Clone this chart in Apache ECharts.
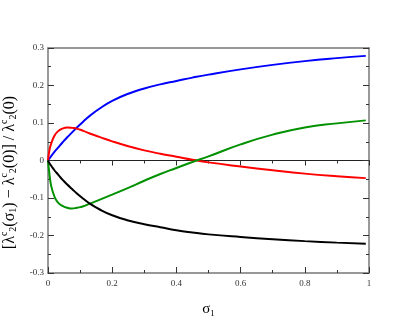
<!DOCTYPE html>
<html>
<head>
<meta charset="utf-8">
<script src="https://cdn.jsdelivr.net/npm/echarts@6/dist/echarts.min.js"></script>
<style>
  html, body { margin: 0; padding: 0; background: #fff; }
  #chart { width: 415px; height: 321px; }
</style>
</head>
<body>
<div id="chart"></div>
<script>
var sigma = [0, 0.005, 0.01, 0.02, 0.03, 0.045, 0.06, 0.075, 0.09, 0.11, 0.13, 0.16, 0.2, 0.25, 0.3, 0.35, 0.4, 0.45, 0.5, 0.6, 0.7, 0.8, 0.9, 0.99];
var blue  = [0, 0.006, 0.012, 0.023, 0.033, 0.048, 0.062, 0.075, 0.088, 0.104, 0.119, 0.138, 0.159, 0.178, 0.192, 0.203, 0.212, 0.221, 0.229, 0.243, 0.255, 0.265, 0.273, 0.279];
var red   = [0, 0.030, 0.045, 0.066, 0.077, 0.085, 0.088, 0.087, 0.085, 0.079, 0.072, 0.063, 0.051, 0.038, 0.027, 0.018, 0.010, 0.002, -0.005, -0.016, -0.026, -0.035, -0.042, -0.047];
var green = [0, -0.040, -0.068, -0.096, -0.111, -0.121, -0.126, -0.128, -0.126, -0.122, -0.115, -0.105, -0.091, -0.073, -0.054, -0.036, -0.020, -0.004, 0.011, 0.043, 0.069, 0.088, 0.099, 0.107];
var black = [0, -0.008, -0.014, -0.026, -0.036, -0.051, -0.064, -0.076, -0.088, -0.102, -0.115, -0.130, -0.146, -0.160, -0.170, -0.178, -0.186, -0.192, -0.197, -0.204, -0.210, -0.215, -0.219, -0.222];

function pairs(ys) {
  var out = [];
  for (var i = 0; i < sigma.length; i++) out.push([sigma[i], ys[i]]);
  return out;
}

var serif = 'Liberation Serif';
var frame = '#777';
var tickCol = '#333';
function box() {
  return { left: 48, right: 46, top: 48, bottom: 48, containLabel: false, outerBoundsMode: 'none' };
}

// extra grids (same rect) only carry the top frame line and the minor ticks
function xAx(grid, pos, off, step, len, line) {
  return {
    type: 'value', gridIndex: grid, min: 0, max: 1, interval: step, position: pos, offset: off,
    axisLine: { show: !!line, onZero: false, lineStyle: { color: frame, width: 1.5 } },
    axisTick: { show: len > 0, inside: true, length: len, lineStyle: { color: tickCol } },
    splitLine: { show: false }, axisLabel: { show: false }
  };
}
function yAx(grid, pos, step, len) {
  return {
    type: 'value', gridIndex: grid, min: -0.3, max: 0.3, interval: step, position: pos,
    axisLine: { show: false, onZero: false },
    axisTick: { show: len > 0, inside: true, length: len, lineStyle: { color: tickCol } },
    splitLine: { show: false }, axisLabel: { show: false }
  };
}

var myChart = echarts.init(document.getElementById('chart'));
var option = {
  animation: false,
  grid: [box(), box(), box()],
  xAxis: [
    {
      type: 'value', gridIndex: 0, min: 0, max: 1, interval: 0.2, position: 'bottom',
      axisLine: { show: true, onZero: false, lineStyle: { color: frame, width: 1.5 } },
      axisTick: { show: true, inside: true, length: 6, lineStyle: { color: tickCol } },
      splitLine: { show: false },
      axisLabel: { fontFamily: serif, fontSize: 9, color: '#333', margin: 6 },
      name: '{s|σ}{sub|1}', nameLocation: 'middle', nameGap: 28,
      nameTextStyle: {
        rich: {
          s: { fontFamily: serif, fontSize: 15, color: '#000' },
          sub: { fontFamily: serif, fontSize: 9, color: '#000', padding: [8, 0, 0, 0] }
        }
      }
    },
    {
      // zero line: a top axis pushed down to y = 0
      type: 'value', gridIndex: 0, min: 0, max: 1, interval: 0.2, position: 'top', offset: -112.5,
      axisLine: { show: true, onZero: false, lineStyle: { color: '#222', width: 1 } },
      axisTick: { show: true, inside: true, length: 5, lineStyle: { color: '#222' } },
      splitLine: { show: false },
      axisLabel: { show: false }
    },
    xAx(1, 'top', 0, 0.2, 0, true),
    xAx(1, 'bottom', 0, 0.1, 3, false),
    xAx(2, 'top', -112.5, 0.1, 3, false)
  ],
  yAxis: [
    {
      type: 'value', gridIndex: 0, min: -0.3, max: 0.3, interval: 0.1, position: 'left',
      axisLine: { show: true, onZero: false, lineStyle: { color: frame, width: 1.5 } },
      axisTick: { show: true, inside: true, length: 6, lineStyle: { color: tickCol } },
      splitLine: { show: false },
      axisLabel: { fontFamily: serif, fontSize: 9, color: '#333', margin: 4 },
      name: '[{t|λ}{sup|c}{sub|2}{t|(σ}{sub|1}{t|) − λ}{sup|c}{sub|2}{t|(0)] / λ}{sup|c}{sub|2}{t|(0)}',
      nameLocation: 'middle', nameGap: 20, nameRotate: 90,
      nameTextStyle: {
        fontFamily: serif, fontSize: 16, color: '#000', padding: [0, 24, 0, 0],
        rich: {
          t: { fontFamily: serif, fontSize: 16, color: '#000' },
          sup: { fontFamily: serif, fontSize: 10, color: '#000', padding: [0, 0, 9, 0] },
          sub: { fontFamily: serif, fontSize: 10, color: '#000', padding: [9, 0, 0, 0] }
        }
      }
    },
    {
      type: 'value', gridIndex: 0, min: -0.3, max: 0.3, interval: 0.1, position: 'right',
      axisLine: { show: true, onZero: false, lineStyle: { color: frame, width: 1.5 } },
      axisTick: { show: true, inside: true, length: 6, lineStyle: { color: tickCol } },
      splitLine: { show: false },
      axisLabel: { show: false }
    },
    yAx(1, 'left', 0.05, 3),
    yAx(1, 'right', 0.05, 3),
    yAx(2, 'left', 0.1, 0)
  ],
  series: [
    { type: 'line', data: pairs(blue), smooth: true, showSymbol: false, lineStyle: { color: '#0000ff', width: 2 } },
    { type: 'line', data: pairs(red), smooth: true, showSymbol: false, lineStyle: { color: '#ff0000', width: 2 } },
    { type: 'line', data: pairs(green), smooth: true, showSymbol: false, lineStyle: { color: '#009100', width: 2 } },
    { type: 'line', data: pairs(black), smooth: true, showSymbol: false, lineStyle: { color: '#000000', width: 2 } }
  ]
};
myChart.setOption(option);
</script>
</body>
</html>
